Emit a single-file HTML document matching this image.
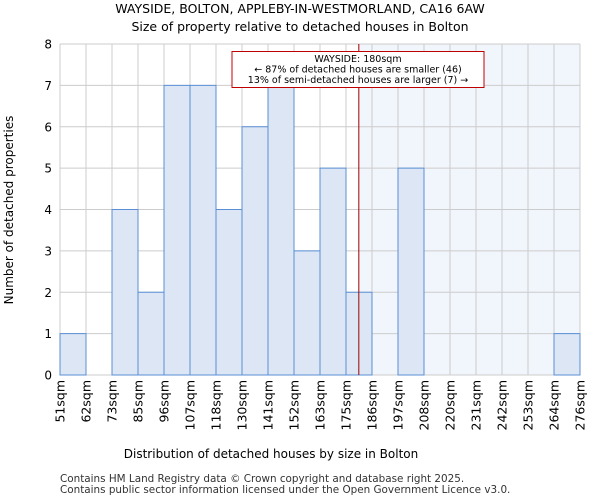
<!DOCTYPE html>
<html><head><meta charset="utf-8"><style>
body{margin:0;background:#fff;font-family:"DejaVu Sans","Liberation Sans",sans-serif;}
</style></head><body>
<svg id="chart" width="600" height="500" xmlns="http://www.w3.org/2000/svg" font-family="DejaVu Sans, Liberation Sans, sans-serif">
<text x="300" y="13" text-anchor="middle" font-size="12.5">WAYSIDE, BOLTON, APPLEBY-IN-WESTMORLAND, CA16 6AW</text>
<text x="300" y="31" text-anchor="middle" font-size="12.5">Size of property relative to detached houses in Bolton</text>
<g id="plot"></g>
<text x="271" y="458" text-anchor="middle" font-size="12">Distribution of detached houses by size in Bolton</text>
<text transform="translate(13,210) rotate(-90)" text-anchor="middle" font-size="12">Number of detached properties</text>
<text x="60" y="482" font-size="10.4" fill="#333">Contains HM Land Registry data © Crown copyright and database right 2025.</text>
<text x="60" y="493" font-size="10.4" fill="#333">Contains public sector information licensed under the Open Government Licence v3.0.</text>
</svg>
<script>
const binLabels=["51sqm","62sqm","73sqm","85sqm","96sqm","107sqm","118sqm","130sqm","141sqm","152sqm","163sqm","175sqm","186sqm","197sqm","208sqm","220sqm","231sqm","242sqm","253sqm","264sqm","276sqm"];
const binEdges=[51,62,73,85,96,107,118,130,141,152,163,175,186,197,208,220,231,242,253,264,276];
const counts=[1,0,4,2,7,7,4,6,7,3,5,2,0,5,0,0,0,0,0,1];
const yTicks=[0,1,2,3,4,5,6,7,8];
const propertySize=180;
const NS="http://www.w3.org/2000/svg";
const L=60,R=580,T=44,B=375,yMax=8,n=counts.length;
const bw=(R-L)/n;
const xi=i=>L+i*bw;
const xv=v=>{for(let i=0;i<binEdges.length-1;i++){if(v<=binEdges[i+1])return xi(i)+(v-binEdges[i])/(binEdges[i+1]-binEdges[i])*bw;}return R;};
const y=v=>B-v/yMax*(B-T);
const g=document.getElementById('plot');
function mk(t,a){const e=document.createElementNS(NS,t);for(const k in a)e.setAttribute(k,a[k]);g.appendChild(e);return e;}
const px=xv(propertySize)+1;
let e=mk('rect',{x:px,y:T,width:R-px,height:B-T,fill:'#f1f5fc'});


for(let i=0;i<=n;i++){e=mk('line',{x1:xi(i),x2:xi(i),y1:T,y2:B,stroke:'#cccccc','stroke-width':1});

}
yTicks.forEach(t=>{e=mk('line',{x1:L,x2:R,y1:y(t),y2:y(t),stroke:'#cccccc','stroke-width':1});


e=mk('text',{x:L-8,y:y(t)+4.5,'text-anchor':'end','font-size':12});e.textContent=t;

});
counts.forEach((c,i)=>{if(c<=0)return;e=mk('rect',{x:xi(i),y:y(c),width:bw,height:B-y(c),fill:'#dce6f4',stroke:'#5a8fd5','stroke-width':1});

});
binLabels.forEach((l,i)=>{e=mk('text',{transform:`translate(${xi(i)+4.5},380) rotate(-90)`,'text-anchor':'end','font-size':12.5});e.textContent=l;

});
e=mk('line',{x1:px,x2:px,y1:T,y2:B,stroke:'#a00000','stroke-width':1});


e=mk('rect',{x:232,y:51.5,width:252,height:36,fill:'#fff',stroke:'#c00000','stroke-width':1});


["WAYSIDE: 180sqm","← 87% of detached houses are smaller (46)","13% of semi-detached houses are larger (7) →"].forEach((s,i)=>{
e=mk('text',{x:358,y:62+i*10.5,'text-anchor':'middle','font-size':9.5});e.textContent=s;

});
</script>
</body></html>
